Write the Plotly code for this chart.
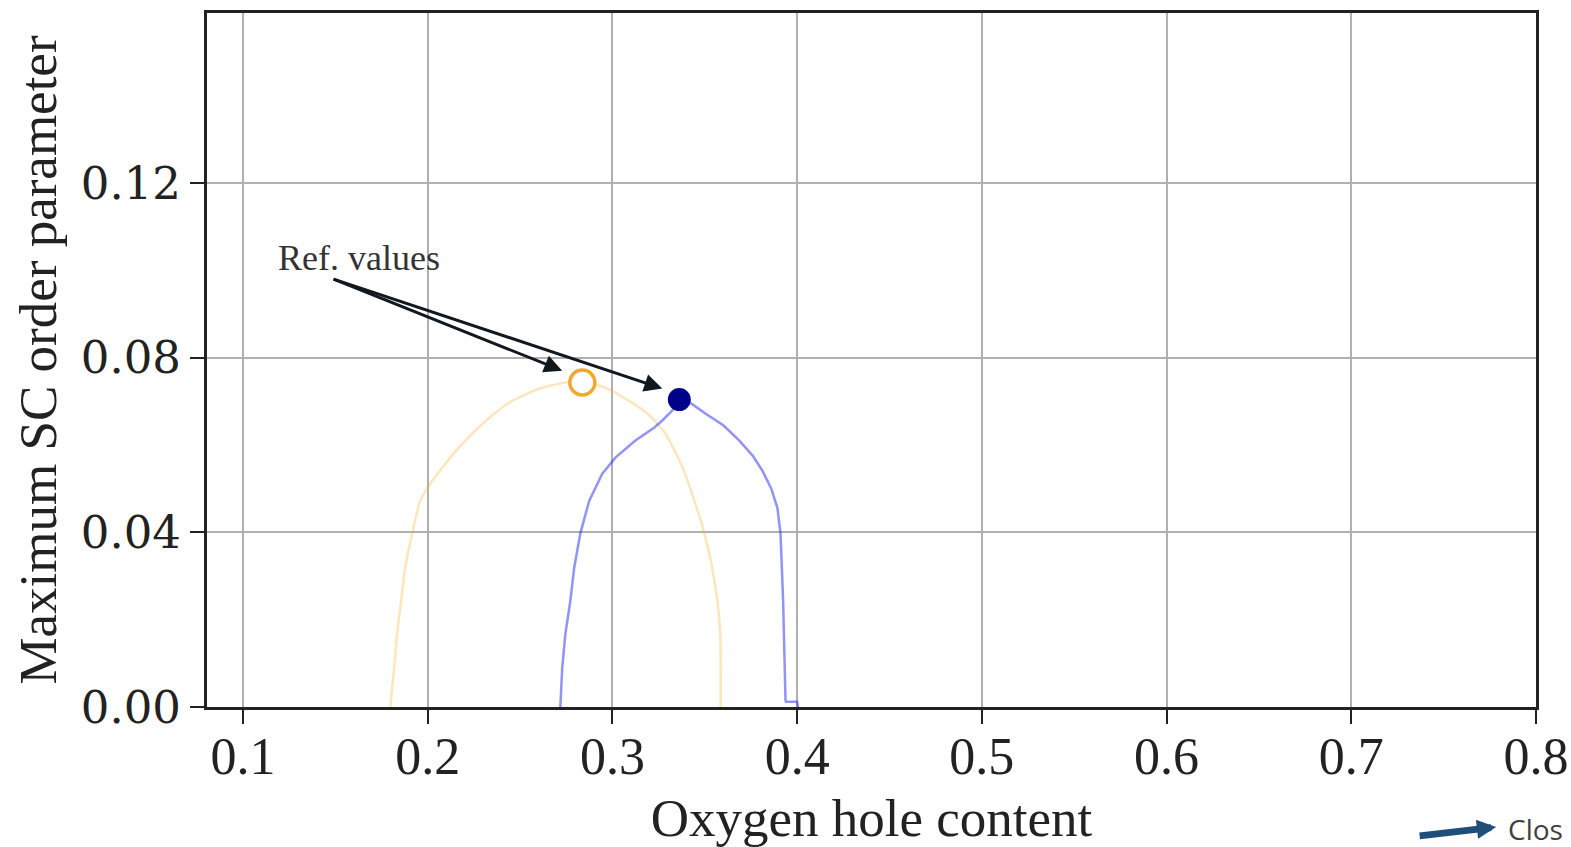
import plotly.graph_objects as go

# ---- data ----
orange_x = [0.1797, 0.1818, 0.1834, 0.1856, 0.1878, 0.1916, 0.1959, 0.2013, 0.2078, 0.2160, 0.2241,
            0.2350, 0.2457, 0.2600, 0.2720, 0.2830, 0.2950, 0.3090, 0.3200, 0.3287, 0.3380, 0.3444,
            0.3498, 0.3540, 0.3568, 0.3584, 0.3586, 0.3586]
orange_y = [0.0000, 0.0089, 0.0167, 0.0243, 0.0319, 0.0397, 0.0472, 0.0511, 0.0548, 0.0590, 0.0626,
            0.0668, 0.0701, 0.0728, 0.0741, 0.0745, 0.0733, 0.0701, 0.0668, 0.0626, 0.0548, 0.0472,
            0.0397, 0.0319, 0.0243, 0.0167, 0.0089, 0.0000]

blue_x = [0.2718, 0.2728, 0.2745, 0.2772, 0.2793, 0.2826, 0.2874, 0.2945, 0.3016, 0.3124,
          0.3227, 0.3270, 0.3324, 0.3362, 0.3430, 0.3503, 0.3600, 0.3687, 0.3760, 0.3812,
          0.3860, 0.3893, 0.3910, 0.3924, 0.3937, 0.3940, 0.4000, 0.4005]
blue_y = [0.0000, 0.0089, 0.0167, 0.0243, 0.0319, 0.0397, 0.0472, 0.0534, 0.0571, 0.0610,
          0.0640, 0.0656, 0.0679, 0.0704, 0.0694, 0.0672, 0.0645, 0.0610, 0.0575, 0.0541,
          0.0500, 0.0456, 0.0397, 0.0243, 0.0014, 0.0012, 0.0012, 0.0000]

ref_orange_x = [0.2837]
ref_orange_y = [0.0743]
ref_blue_x = [0.3362]
ref_blue_y = [0.0704]

x_ticks = [0.1, 0.2, 0.3, 0.4, 0.5, 0.6, 0.7, 0.8]
x_ticklabels = ["0.1", "0.2", "0.3", "0.4", "0.5", "0.6", "0.7", "0.8"]
y_ticks = [0.0, 0.04, 0.08, 0.12]
y_ticklabels = ["0.00", "0.04", "0.08", "0.12"]

# annotation anchor (label) and arrow targets
label_xy = (0.1482, 0.0981)
arrow_targets = [(0.2728, 0.0770), (0.3270, 0.0729)]

fig = go.Figure()
fig.add_trace(go.Scatter(x=orange_x, y=orange_y, mode="lines",
                         line=dict(color="rgba(255,170,30,0.30)", width=2.5, shape="spline", smoothing=0.6),
                         showlegend=False))
fig.add_trace(go.Scatter(x=blue_x, y=blue_y, mode="lines",
                         line=dict(color="rgba(40,40,240,0.50)", width=2.5), showlegend=False))
fig.add_trace(go.Scatter(x=ref_orange_x, y=ref_orange_y, mode="markers",
                         marker=dict(size=25, color="white", line=dict(color="#f2a72e", width=3.5)),
                         showlegend=False))
fig.add_trace(go.Scatter(x=ref_blue_x, y=ref_blue_y, mode="markers",
                         marker=dict(size=23, color="#000088", line=dict(width=0)),
                         showlegend=False))

for tx, ty in arrow_targets:
    fig.add_annotation(x=tx, y=ty, ax=label_xy[0], ay=label_xy[1], xref="x", yref="y",
                       axref="x", ayref="y", text="", showarrow=True, arrowhead=2,
                       arrowsize=1.2, arrowwidth=3, arrowcolor="#111820", standoff=0)

fig.add_annotation(x=0.1180, y=0.1027, xref="x", yref="y", text="Ref. values",
                   showarrow=False, xanchor="left", yanchor="middle",
                   font=dict(family="Liberation Serif", size=36, color="#333333"))

# stray slide elements at the bottom right (paper coords relative to plot area)
fig.add_annotation(x=0.9700, y=-0.173, xref="paper", yref="paper",
                   ax=-78, ay=9, axref="pixel", ayref="pixel", text="", showarrow=True,
                   arrowhead=2, arrowsize=0.55, arrowwidth=7, arrowcolor="#1f4e79", standoff=0)
fig.add_annotation(x=0.9774, y=-0.176, xref="paper", yref="paper", text="Clos",
                   showarrow=False, xanchor="left", yanchor="middle",
                   font=dict(family="Open Sans", size=28, color="#404040"))

axis_common = dict(showline=True, mirror=True, linecolor="#222222", linewidth=3,
                   ticks="outside", ticklen=14, tickwidth=2, tickcolor="#222222",
                   showgrid=True, gridcolor="#b0b0b0", gridwidth=2.2, zeroline=False,
                   automargin=False)

fig.update_layout(
    width=1571, height=847,
    margin=dict(l=207, r=35, t=13, b=140),
    paper_bgcolor="white", plot_bgcolor="white",
    xaxis=dict(range=[0.0805, 0.8], tickvals=x_ticks, ticktext=x_ticklabels,
               ticklabelstandoff=-12,
               tickfont=dict(family="Liberation Serif", size=52, color="#222222"),
               title=dict(text="Oxygen hole content", standoff=30,
                          font=dict(family="Liberation Serif", size=53, color="#222222")),
               **axis_common),
    yaxis=dict(range=[0, 0.1589], tickvals=y_ticks, ticktext=y_ticklabels,
               tickfont=dict(family="DejaVu Serif", size=45, color="#222222"),
               title=dict(text="Maximum SC order parameter", standoff=8,
                          font=dict(family="Liberation Serif", size=53, color="#222222")),
               **axis_common),
)

fig.write_html("out.html")
